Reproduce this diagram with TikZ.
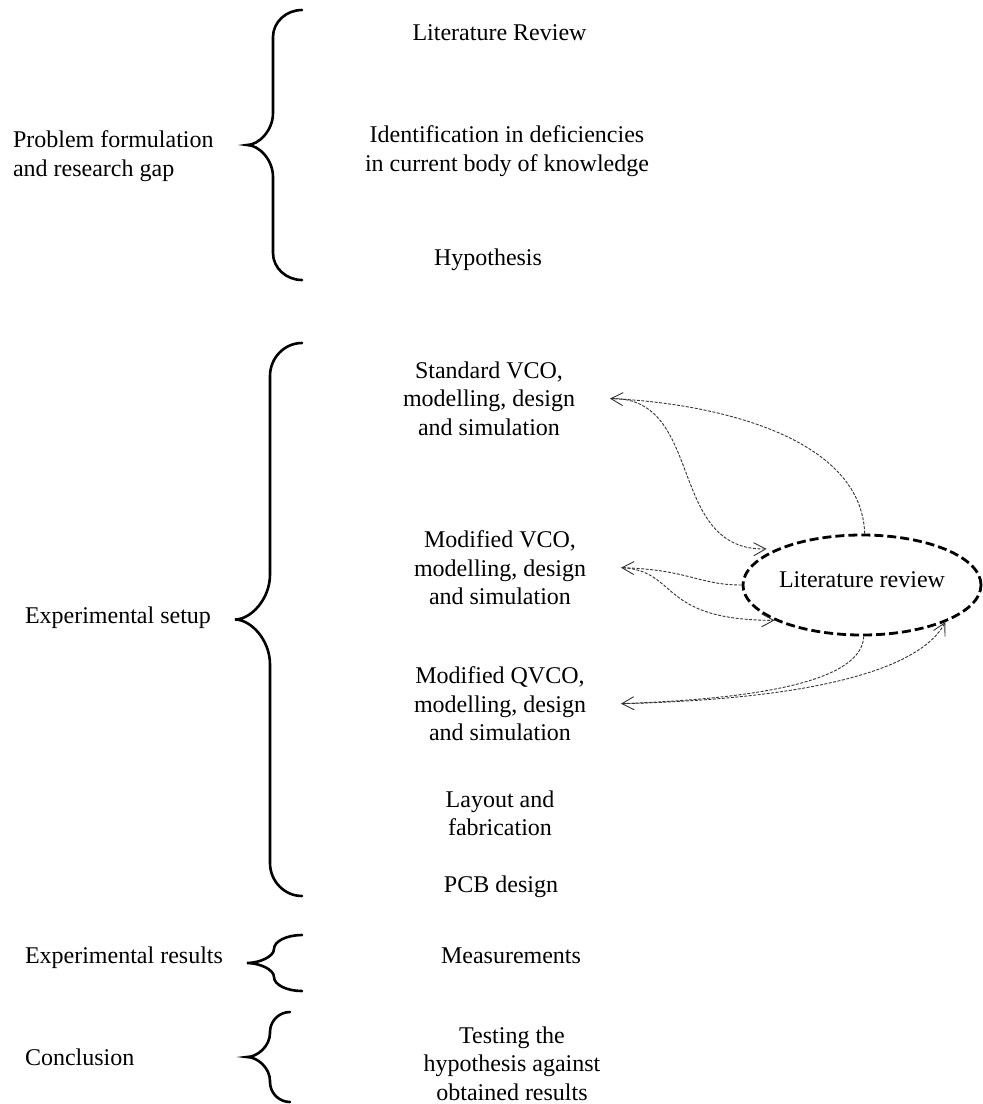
\documentclass[tikz,border=0pt]{standalone}
\usepackage{fontspec}
\setmainfont{Liberation Serif}
\usetikzlibrary{arrows.meta,shapes.geometric}
% #1 x of the ends, #2 x of the upright part, #3 x of the tip,
% #4 y top, #5 y bottom, #6 end corner size, #7 tip curve size
\newcommand{\curlyb}[7]{%
  \draw[bracestyle] (#1,#4)
    .. controls ({#1-0.55*(#1-#2)},#4) and (#2,{#4+0.45*#6}) .. (#2,{#4+#6})
    -- (#2,{(#4+#5)/2-#7})
    .. controls (#2,{(#4+#5)/2-0.45*#7}) and ({#3+0.45*(#2-#3)},{(#4+#5)/2}) .. (#3,{(#4+#5)/2})
    .. controls ({#3+0.45*(#2-#3)},{(#4+#5)/2}) and (#2,{(#4+#5)/2+0.45*#7}) .. (#2,{(#4+#5)/2+#7})
    -- (#2,{#5-#6})
    .. controls (#2,{#5-0.45*#6}) and ({#1-0.55*(#1-#2)},#5) .. (#1,#5);}
\begin{document}
\begin{tikzpicture}[x=1pt,y=-1pt,
  txt/.style={font=\fontsize{24}{28.5}\selectfont, inner sep=0pt, outer sep=0pt},
  ctr/.style={txt, align=center},
  lft/.style={txt, align=left},
  bracestyle/.style={line width=2.6pt, line cap=round},
  link/.style={draw=black!80, line width=0.9pt, dash pattern=on 3pt off 1.5pt,
    -{Straight Barb[length=12pt,width=13pt]}},
  cloud/.style={ellipse, draw, line width=2.8pt, dash pattern=on 9pt off 4pt,
    minimum width=238pt, minimum height=100pt, inner sep=0pt, text depth=10pt,
    font=\fontsize{24}{28.5}\selectfont}
]
\useasboundingbox (0,0) rectangle (983,1104);

% left labels
\node[lft, anchor=north west] (prob) at (13,130.6) {Problem formulation\\and research gap};
\node[txt, anchor=base west] (exps) at (25,623) {Experimental setup};
\node[txt, anchor=base west] (expr) at (25,963) {Experimental results};
\node[txt, anchor=base west] (conc) at (25,1065) {Conclusion};

% right items
\node[txt, anchor=base] (lrev) at (499.5,40) {Literature Review};
\node[ctr, anchor=north] (idn) at (507,125.6) {Identification in deficiencies\\in current body of knowledge};
\node[txt, anchor=base] (hyp) at (488,265) {Hypothesis};
\node[ctr, anchor=north] (std) at (489,361.6) {Standard VCO,\\modelling, design\\and simulation};
\node[ctr, anchor=north] (mvco) at (500,530.6) {Modified VCO,\\modelling, design\\and simulation};
\node[ctr, anchor=north] (qvco) at (500,666.6) {Modified QVCO,\\modelling, design\\and simulation};
\node[ctr, anchor=north] (lay) at (500,790.6) {Layout and\\fabrication};
\node[txt, anchor=base] (pcb) at (501,892) {PCB design};
\node[txt, anchor=base] (meas) at (511,963) {Measurements};
\node[ctr, anchor=north] (test) at (512,1026.6) {Testing the\\hypothesis against\\obtained results};

\node[cloud] (lit) at (862,585) {Literature review};

% braces
\curlyb{302}{273}{247}{10}{280}{27}{32}
\curlyb{302}{270}{235}{343}{896}{33}{45}
\curlyb{302}{274}{247}{935}{991}{14}{14}
\curlyb{290}{270}{247}{1012}{1102}{20}{24}

% connectors
\draw[link] (lit.87) .. controls +(-3,-95) and +(110,5) .. ([xshift=35pt]std.east);
\draw[link, shorten >=10pt] ([xshift=37pt]std.east) .. controls +(93,-1) and +(-110,2) .. (lit.157);
\draw[link] (lit.west) .. controls +(-43,0) and +(68,2) .. ([xshift=35pt]mvco.east);
\draw[link] ([xshift=37pt]mvco.east) .. controls +(56,4) and +(-116,0) .. (lit.202);
\draw[link] (lit.272) .. controls +(-2,45) and +(138,-5) .. ([xshift=35pt]qvco.east);
\draw[link] ([xshift=37pt]qvco.east) .. controls +(200,-5) and +(-24,45) .. (lit.336);
\end{tikzpicture}
\end{document}
